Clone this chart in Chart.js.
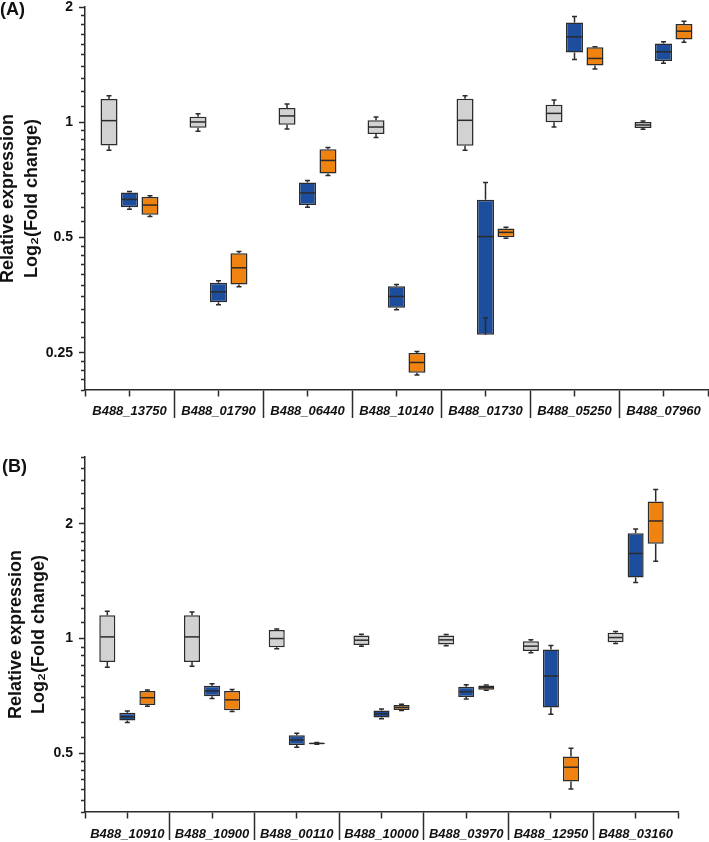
<!DOCTYPE html>
<html><head><meta charset="utf-8">
<script src="https://cdn.jsdelivr.net/npm/chart.js@4.4.1/dist/chart.umd.min.js"></script>
<style>
html,body{margin:0;padding:0;background:#fff;}
#wrap{position:relative;width:709px;height:842px;overflow:hidden;}
canvas{position:absolute;left:0;}
.plabel{position:absolute;font:bold 18px "Liberation Sans",Arial,sans-serif;color:#111;}
</style></head><body>
<div id="wrap">
<canvas id="chartA" width="709" height="420" style="top:0"></canvas>
<canvas id="chartB" width="709" height="422" style="top:420px"></canvas>
<div class="plabel" style="left:0;top:-1px">(A)</div>
<div class="plabel" style="left:2px;top:456px">(B)</div>
</div>
<script>
// ---------- DATA (each entry: [min, Q1, median, Q3, max]) ----------
const categoriesA = ['B488_13750','B488_01790','B488_06440','B488_10140','B488_01730','B488_05250','B488_07960'];
const greyA = [
  [0.845,0.870,1.010,1.150,1.173],
  [0.947,0.968,1.002,1.034,1.053],
  [0.961,0.986,1.039,1.090,1.116],
  [0.912,0.932,0.972,1.012,1.032],
  [0.845,0.868,1.012,1.152,1.173],
  [0.972,1.000,1.055,1.112,1.143],
  [0.959,0.967,0.984,1.002,1.008]
];
const blueA = [
  [0.593,0.600,0.629,0.656,0.660],
  [0.334,0.339,0.361,0.381,0.386],
  [0.600,0.608,0.654,0.696,0.705],
  [0.324,0.328,0.351,0.373,0.377],
  [0.309,0.279,0.503,0.628,0.696],
  [1.459,1.522,1.672,1.822,1.888],
  [1.427,1.445,1.528,1.606,1.622]
];
const orangeA = [
  [0.568,0.574,0.608,0.638,0.643],
  [0.372,0.377,0.417,0.455,0.460],
  [0.726,0.735,0.795,0.850,0.859],
  [0.219,0.222,0.236,0.250,0.252],
  [0.498,0.501,0.516,0.528,0.532],
  [1.377,1.408,1.468,1.571,1.575],
  [1.619,1.645,1.729,1.807,1.836]
];
const majorTicksA = [0.25, 0.5, 1, 2];
const rangeA = [0.2, 2];

const categoriesB = ['B488_10910','B488_10900','B488_00110','B488_10000','B488_03970','B488_12950','B488_03160'];
const greyB = [
  [0.841,0.867,1.010,1.151,1.179],
  [0.845,0.867,1.010,1.151,1.175],
  [0.940,0.949,1.000,1.053,1.060],
  [0.955,0.962,0.990,1.018,1.026],
  [0.957,0.964,0.992,1.018,1.024],
  [0.917,0.928,0.955,0.984,0.992],
  [0.970,0.978,1.006,1.035,1.043]
];
const blueB = [
  [0.602,0.609,0.623,0.638,0.645],
  [0.696,0.705,0.728,0.752,0.761],
  [0.518,0.525,0.541,0.557,0.564],
  [0.615,0.620,0.634,0.647,0.653],
  [0.694,0.702,0.725,0.747,0.756],
  [0.632,0.659,0.797,0.936,0.959],
  [1.404,1.447,1.673,1.891,1.941]
];
const orangeB = [
  [0.664,0.669,0.699,0.728,0.732],
  [0.643,0.648,0.690,0.728,0.735],
  [0.527,0.528,0.530,0.532,0.533],
  [0.647,0.649,0.659,0.669,0.672],
  [0.731,0.734,0.743,0.753,0.755],
  [0.402,0.421,0.459,0.490,0.515],
  [1.597,1.776,2.037,2.293,2.465]
];
const majorTicksB = [0.5, 1, 2];
const rangeB = [0.35, 3];

const yTitle = ['Relative expression', 'Log\u2082(Fold change)'];

// ---------- STYLE ----------
const FONT = '"Liberation Sans", Arial, Helvetica, sans-serif';
const INK = '#2b2b2b';
const COLORS = ['#d2d2d2', '#1d4e9e', '#f0820f'];

// minor tick values: each octave split into 10 linear steps
function octaveTicks(min, max) {
  const out = [];
  let a = Math.pow(2, Math.floor(Math.log2(min)));
  while (a <= max * 1.0001) {
    for (let k = 0; k < 10; k++) {
      const v = +(a + k * a / 10).toFixed(6);
      if (v >= min * 0.9999 && v <= max * 1.0001) out.push(v);
    }
    a *= 2;
  }
  return out;
}
const isIn = (arr, v) => arr.some(m => Math.abs(m - v) < 1e-6);

const boxWhiskerPlugin = {
  id: 'boxWhisker',
  afterDatasetsDraw(chart) {
    const ctx = chart.ctx, y = chart.scales.y;
    ctx.save();
    ctx.strokeStyle = INK;
    ctx.lineWidth = 1.5;
    chart.data.datasets.forEach((ds, di) => {
      const meta = chart.getDatasetMeta(di);
      meta.data.forEach((bar, i) => {
        const s = ds.stats[i];
        const x = bar.x, half = bar.width / 2;
        const pMin = y.getPixelForValue(s[0]);
        const pQ1 = y.getPixelForValue(s[1]);
        const pMed = y.getPixelForValue(s[2]);
        const pQ3 = y.getPixelForValue(s[3]);
        const pMax = y.getPixelForValue(s[4]);
        ctx.beginPath();
        ctx.moveTo(x, pQ3); ctx.lineTo(x, pMax);
        ctx.moveTo(x - 2.5, pMax); ctx.lineTo(x + 2.5, pMax);
        ctx.moveTo(x, pQ1); ctx.lineTo(x, pMin);
        ctx.moveTo(x - 2.5, pMin); ctx.lineTo(x + 2.5, pMin);
        ctx.stroke();
        ctx.beginPath();
        ctx.moveTo(x - half + 1, pMed); ctx.lineTo(x + half - 1, pMed);
        ctx.stroke();
      });
    });
    ctx.restore();
  }
};

function makeChart(id, cats, series, majors, range, opt) {
  const datasets = series.map((s, k) => ({
    label: ['Control', 'Group 1', 'Group 2'][k],
    data: s.map(r => [r[1], r[3]]),
    stats: s,
    backgroundColor: COLORS[k],
    borderColor: INK,
    borderWidth: 1.5,
    borderSkipped: false,
    categoryPercentage: opt.catPct,
    barPercentage: opt.barPct
  }));
  const n = cats.length;
  const halfSteps = [];
  for (let v = -0.5; v <= n - 0.5 + 1e-9; v += 0.5) halfSteps.push(v);
  const isInnerBoundary = v => Math.abs(v - Math.round(v)) > 0.25 && v > -0.4 && v < n - 0.6;
  return new Chart(document.getElementById(id), {
    type: 'bar',
    data: { labels: cats, datasets },
    plugins: [boxWhiskerPlugin],
    options: {
      responsive: false,
      animation: false,
      events: [],
      layout: { padding: opt.pad },
      plugins: { legend: { display: false }, tooltip: { enabled: false } },
      scales: {
        x: { type: 'category', display: false, offset: true },
        xAxis: {
          type: 'linear', position: 'bottom', axis: 'x',
          min: -0.5, max: n - 0.5, offset: false,
          afterBuildTicks: s => { s.ticks = halfSteps.map(v => ({ value: v })); },
          grid: {
            offset: false,
            drawOnChartArea: false, tickLength: 28, tickWidth: 1.5, tickColor: INK,
            tickBorderDash: c => (c.tick && isInnerBoundary(c.tick.value)) ? [] : [6, 100]
          },
          border: { display: true, color: INK, width: 1.5 },
          ticks: {
            padding: opt.xPad, color: '#111', maxRotation: 0, minRotation: 0, autoSkip: false,
            font: { family: FONT, size: 13, weight: 'bold', style: 'italic' },
            callback: v => (Math.abs(v - Math.round(v)) < 1e-6 && cats[Math.round(v)]) ? cats[Math.round(v)] : ''
          },
          afterFit: s => { s.height = opt.xH; s.paddingLeft = 0; s.paddingRight = 0; }
        },
        y: {
          type: 'logarithmic', position: 'left',
          min: range[0], max: range[1],
          afterBuildTicks: s => { s.ticks = octaveTicks(range[0], range[1]).map(v => ({ value: v })); },
          grid: {
            offset: false,
            drawOnChartArea: false, tickLength: 6, tickWidth: 1.5, tickColor: INK,
            tickBorderDash: c => (c.tick && isIn(majors, c.tick.value)) ? [] : [0, 2, 20]
          },
          border: { display: true, color: INK, width: 1.5 },
          ticks: {
            padding: 6, color: '#111', autoSkip: false,
            font: { family: FONT, size: 14, weight: 'bold' },
            callback: v => isIn(majors, v) ? String(v) : ''
          },
          title: {
            display: true, text: yTitle, color: '#111',
            font: { family: FONT, size: 18, weight: 'bold', lineHeight: 1.28 },
            padding: { top: opt.titlePad, bottom: 0 }
          },
          afterFit: s => { s.width = 85; s.paddingTop = 0; s.paddingBottom = 0; }
        }
      }
    }
  });
}

makeChart('chartA', categoriesA, [greyA, blueA, orangeA], majorTicksA, rangeA, {
  pad: { left: 0, right: 1, top: 7, bottom: 0 }, xH: 30, xPad: -14,
  catPct: 0.69, barPct: 0.83, titlePad: -3
});
makeChart('chartB', categoriesB, [greyB, blueB, orangeB], majorTicksB, rangeB, {
  pad: { left: 0, right: 31, top: 37, bottom: 0 }, xH: 30, xPad: -13,
  catPct: 0.71, barPct: 0.8, titlePad: 4.5
});
</script>
</body></html>
